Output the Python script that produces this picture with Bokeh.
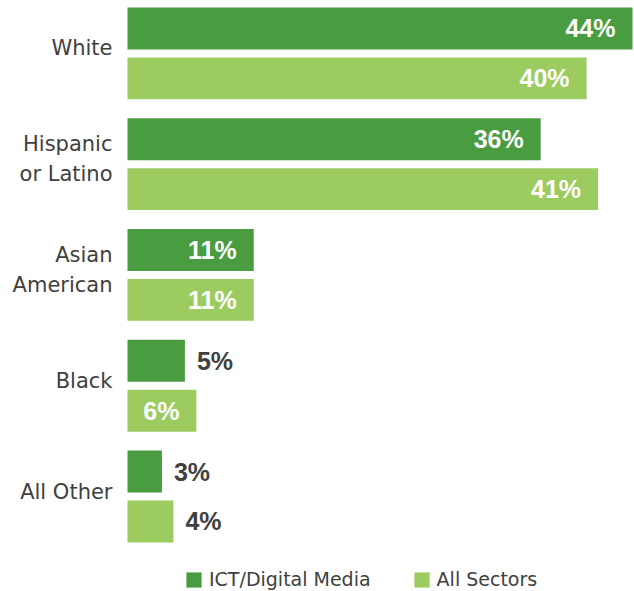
from bokeh.plotting import figure
from bokeh.models import Range1d, ColumnDataSource, Legend, LegendItem
from bokeh.core.properties import value
from bokeh.embed import file_html
from bokeh.resources import INLINE

categories = ["White", "Hispanic or Latino", "Asian American", "Black", "All Other"]
category_labels = ["White", "Hispanic\nor Latino", "Asian\nAmerican", "Black", "All Other"]
series = ["ICT/Digital Media", "All Sectors"]
ict_values = [44, 36, 11, 5, 3]
all_sectors_values = [40, 41, 11, 6, 4]
colors = ["#4A9C40", "#9CCB5F"]
text_gray = "#404040"

# layout constants (in category units: one bar slot = 1)
GROUP_GAP = 0.22
BAR_H = 0.84
group_step = len(series) + GROUP_GAP

W, H = 634, 591
px_per_unit_y = 49.9
y_top = 0.5 - BAR_H / 2 - 7 / px_per_unit_y
y_range = Range1d(start=y_top + H / px_per_unit_y, end=y_top)   # flipped: first category at top
px_per_pct = 11.477
x_range = Range1d(start=-127 / px_per_pct, end=(W - 127) / px_per_pct)

p = figure(width=W, height=H, x_range=x_range, y_range=y_range,
           output_backend="svg", toolbar_location=None,
           x_axis_location=None, y_axis_location=None,
           min_border_left=0, min_border_right=0, min_border_top=0, min_border_bottom=0)
p.grid.visible = False
p.outline_line_color = None

renderers = []
for j, (s, vals, col) in enumerate(zip(series, [ict_values, all_sectors_values], colors)):
    ys = [i * group_step + j + 0.5 for i in range(len(categories))]
    src = ColumnDataSource(dict(y=ys, v=vals))
    r = p.hbar(y="y", left=0, right="v", height=BAR_H, source=src,
               fill_color=col, line_color=None)
    renderers.append(r)
    inside = [i for i, v in enumerate(vals) if v >= 6]
    outside = [i for i, v in enumerate(vals) if v < 6]
    src_in = ColumnDataSource(dict(y=[ys[i] for i in inside],
                                   v=[vals[i] for i in inside],
                                   t=[f"{vals[i]}%" for i in inside]))
    src_out = ColumnDataSource(dict(y=[ys[i] for i in outside],
                                    v=[vals[i] for i in outside],
                                    t=[f"{vals[i]}%" for i in outside]))
    p.text(x="v", y="y", text="t", source=src_in, x_offset=-17,
           text_align="right", text_baseline="middle", text_color="white",
           text_font=value("Liberation Sans"), text_font_style="bold", text_font_size="25px")
    p.text(x="v", y="y", text="t", source=src_out, x_offset=12,
           text_align="left", text_baseline="middle", text_color=text_gray,
           text_font=value("Liberation Sans"), text_font_style="bold", text_font_size="25px")

cat_src = ColumnDataSource(dict(x=[0] * len(categories),
                                y=[i * group_step + len(series) / 2 for i in range(len(categories))],
                                t=category_labels))
p.text(x="x", y="y", text="t", source=cat_src, x_offset=-15, y_offset=-5,
       text_align="right", text_baseline="middle", text_color=text_gray,
       text_font=value("DejaVu Sans"), text_font_size="21px", text_line_height=1.24)

legend = Legend(items=[LegendItem(label=s, renderers=[r]) for s, r in zip(series, renderers)],
                orientation="horizontal", location=(184, 1), padding=0, margin=0,
                spacing=41, glyph_width=19, glyph_height=19, label_standoff=6,
                label_text_font="DejaVu Sans", label_text_font_size="19px",
                label_text_color=text_gray, border_line_color=None, background_fill_alpha=0)
p.add_layout(legend)

open("out.html", "w").write(file_html(p, INLINE))
